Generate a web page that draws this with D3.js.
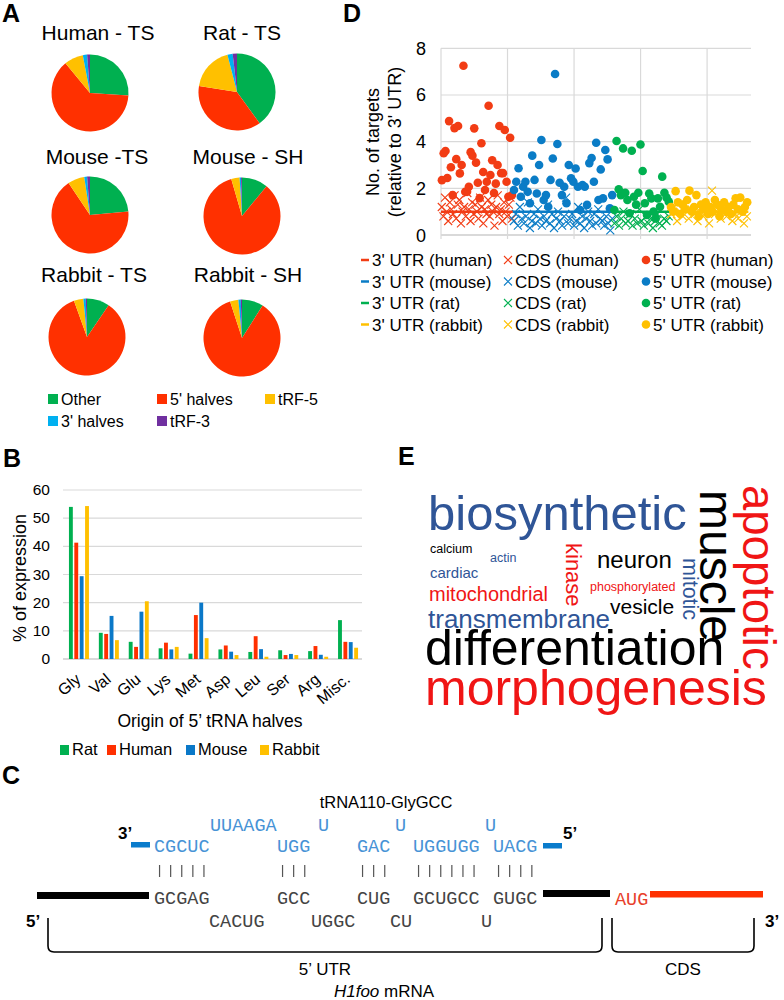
<!DOCTYPE html>
<html><head><meta charset="utf-8">
<script src="https://cdn.jsdelivr.net/npm/d3@7"></script>
<style>body{margin:0;background:#fff} svg{display:block}</style>
</head><body>
<svg id="fig" width="784" height="1000"></svg>
<script>
// ================= DATA =================
// Panel A: composition of tRNA fragments (percent)
const pieCategories = ["Other", "5' halves", "tRF-5", "3' halves", "tRF-3"];
const pieTitles = ["Human - TS", "Rat - TS", "Mouse -TS", "Mouse - SH", "Rabbit - TS", "Rabbit - SH"];
const pieHumanTS  = [26, 63, 8, 1.8, 1.2];
const pieRatTS    = [40, 37.5, 18.5, 2.2, 1.8];
const pieMouseTS  = [23.6, 67, 7, 1.2, 1.2];
const pieMouseSH  = [11, 84.5, 3.5, 0.6, 0.4];
const pieRabbitTS = [9.5, 85, 4, 1, 0.5];
const pieRabbitSH = [9, 86, 3.5, 1, 0.5];

// Panel B: origin of 5' tRNA halves (% of expression)
const bCategories = ["Gly", "Val", "Glu", "Lys", "Met", "Asp", "Leu", "Ser", "Arg", "Misc."];
const bSeries = ["Rat", "Human", "Mouse", "Rabbit"];
const bRat    = [54, 9.3, 6.1, 3.8, 1.9, 3.4, 2.5, 3.1, 2.8, 13.8];
const bHuman  = [41.3, 8.9, 4.3, 5.8, 15.6, 4.8, 8.1, 1.4, 4.6, 6.1];
const bMouse  = [29.4, 15.3, 16.8, 3.4, 20, 2.6, 3.5, 1.8, 1.5, 6.0];
const bRabbit = [54.3, 6.7, 20.5, 4.3, 7.4, 1.4, 0.8, 1.4, 0.8, 4.0];
const bTicks = [0, 10, 20, 30, 40, 50, 60];

// Panel D: number of targets relative to 3' UTR
const dSpecies = ["human", "mouse", "rat", "rabbit"];
const dGeneCounts = [108, 151, 85, 118];
const dTicks = [0, 2, 4, 6, 8];
const utr5Human = [2.35, 3.5, 3.6, 2.44, 4.88, 2.9, 1.71, 4.58, 3.25, 4.67, 2.64, 3.0, 7.25, 1.85, 1.85, 2.07, 3.55, 3.4, 4.57, 3.1, 2.24, 1.58, 3.93, 2.7, 1.93, 2.28, 5.54, 2.57, 3.2, 1.8, 2.2, 3.0, 4.67, 2.65, 2.65, 4.5, 2.28, 1.64, 4.17, 1.71];
const cdsHuman = [1.2, 0.8, 1.6, 1.0, 0.6, 1.4, 1.1, 0.9, 1.7, 0.7, 1.3, 1.5, 0.5, 1.0, 1.2, 0.8, 1.8, 1.1, 0.6, 1.4, 0.9, 1.3, 1.0, 0.7, 1.6, 1.2, 0.5, 1.1, 0.9, 1.5, 0.8, 1.3, 1.0, 0.4, 1.2, 1.7, 0.9, 1.1, 0.6, 1.4, 1.0, 0.8, 1.3, 1.6, 0.7];
const utr5Mouse = [1.93, 2.28, 2.86, 1.64, 2.07, 2.28, 1.85, 1.36, 3.4, 2.36, 1.78, 3.0, 4.07, 1.5, 1.71, 1.21, 2.36, 3.28, 6.9, 3.9, 2.24, 1.71, 2.07, 1.36, 3.0, 2.43, 2.28, 2.85, 2.07, 1.07, 2.14, 2.07, 1.29, 3.08, 3.3, 2.28, 3.95, 1.5, 2.81, 1.57, 3.64, 3.24, 1.14, 1.71];
const cdsMouse = [0.6, 0.9, 0.4, 1.2, 0.7, 0.5, 0.8, 1.4, 0.3, 0.6, 0.9, 0.5, 1.1, 0.7, 0.4, 0.8, 0.6, 1.3, 0.5, 0.9, 0.3, 0.7, 1.0, 0.6, 0.4, 0.8, 1.6, 0.5, 0.7, 0.9, 0.4, 0.6, 1.2, 0.5, 0.8, 0.3, 0.7, 1.0, 0.6, 0.4, 0.9, 0.5, 1.1, 0.7, 0.6, 0.4, 0.8, 0.5, 0.2, 0.7];
const utr5Rat = [1.07, 4.03, 1.96, 1.71, 3.71, 1.81, 1.5, 0.93, 3.61, 1.64, 1.3, 1.81, 3.88, 2.74, 1.36, 0.86, 1.78, 1.57, 1.0, 0.71, 1.57, 1.21, 2.5, 1.81, 1.6, 1.43];
const cdsRat = [0.5, 0.8, 0.4, 0.7, 1.0, 0.5, 0.6, 0.9, 0.4, 0.7, 0.5, 1.1, 0.6, 0.4, 0.8, 0.5, 0.7, 0.3, 0.6, 0.9, 0.5, 0.4, 0.7, 0.6, 0.8];
const utr5Rabbit = [1.2, 1.0, 1.88, 1.4, 0.9, 1.3, 1.1, 1.5, 1.9, 1.0, 1.2, 1.71, 0.8, 1.3, 1.1, 1.4, 0.9, 1.2, 1.0, 1.5, 1.3, 0.8, 1.1, 1.4, 1.0, 1.2, 0.9, 1.3, 1.57, 1.1, 1.6, 1.0, 1.2, 1.4];
const cdsRabbit = [0.9, 1.2, 0.6, 1.0, 0.8, 1.3, 0.7, 1.1, 0.9, 0.6, 1.0, 0.8, 1.2, 0.5, 1.9, 0.9, 1.1, 0.7, 1.0, 0.8, 1.3, 0.6, 0.9, 0.7, 1.0, 0.5, 0.8];
const utr3Value = 1;

// Panel E: word cloud terms
const cloudWords = ["biosynthetic", "muscle", "apoptotic", "differentiation", "morphogenesis", "transmembrane", "mitochondrial", "neuron", "vesicle", "kinase", "mitotic", "cardiac", "calcium", "actin", "phosphorylated"];

// ================= DRAWING =================
const F = 'Arial, "Liberation Sans", sans-serif';
const MONO = '"Courier New", "Liberation Mono", monospace';
const svg = d3.select("#fig").attr("font-family", F);
const GRID = "#d9d9d9";

// panel letters
[["A", 2, 22], ["B", 3, 467], ["C", 2, 784], ["D", 343, 22], ["E", 398, 465]].forEach(([t, x, y]) =>
  svg.append("text").attr("x", x).attr("y", y).attr("font-size", 25).attr("font-weight", "bold").text(t));

// ---------- Panel A ----------
const pieColors = ["#00b050", "#ff3000", "#ffc000", "#00b0f0", "#7030a0"];
const pieValues = [pieHumanTS, pieRatTS, pieMouseTS, pieMouseSH, pieRabbitTS, pieRabbitSH];
const pieLayout = [
  {c: [90, 93], t: [98, 39.5]}, {c: [237, 92], t: [242, 39.5]},
  {c: [90, 215], t: [97, 164]}, {c: [242, 216], t: [248, 164]},
  {c: [87, 337], t: [94, 282]}, {c: [242, 338], t: [248, 282]}
];
const pie = d3.pie().sort(null).value(d => d);
const arc = d3.arc().innerRadius(0).outerRadius(38.5);
pieValues.forEach((vals, i) => {
  const L = pieLayout[i];
  svg.append("text").attr("x", L.t[0]).attr("y", L.t[1]).attr("text-anchor", "middle")
    .attr("font-size", 21).text(pieTitles[i]);
  const g = svg.append("g").attr("transform", `translate(${L.c[0]},${L.c[1]})`);
  g.selectAll("path").data(pie(vals)).join("path").attr("d", arc)
    .attr("fill", (d, j) => pieColors[j]);
});
const pieLegPos = [[48, 405], [157, 405], [265, 405], [48, 427], [157, 427]];
pieCategories.forEach((c, i) => {
  const [x, y] = pieLegPos[i];
  svg.append("rect").attr("x", x).attr("y", y - 11).attr("width", 10).attr("height", 10).attr("fill", pieColors[i]);
  svg.append("text").attr("x", x + 13).attr("y", y).attr("font-size", 16).text(c);
});

// ---------- Panel B ----------
const bColors = ["#00b050", "#ff3000", "#0a78c8", "#ffc000"];
const bData = [bRat, bHuman, bMouse, bRabbit];
const bx0 = d3.scaleBand().domain(bCategories).range([64, 363]).paddingInner(0);
const bx1 = d3.scaleBand().domain(bSeries).range([0, 20]).paddingInner(0.28);
const by = d3.scaleLinear().domain([0, 60]).range([659, 490]);
const gB = svg.append("g");
gB.append("g").selectAll("line").data(bTicks.filter(t => t > 0)).join("line")
  .attr("x1", 63).attr("x2", 362).attr("y1", d => by(d)).attr("y2", d => by(d))
  .attr("stroke", GRID).attr("stroke-width", 1.2);
gB.append("line").attr("x1", 63).attr("x2", 362).attr("y1", by(0)).attr("y2", by(0)).attr("stroke", GRID).attr("stroke-width", 2);
gB.selectAll(".ytl").data(bTicks).join("text").attr("x", 50).attr("y", d => by(d) + 5)
  .attr("text-anchor", "end").attr("font-size", 15.5).text(d => d);
bCategories.forEach((cat, ci) => {
  bSeries.forEach((s, si) => {
    gB.append("rect").attr("x", bx0(cat) + (bx0.bandwidth() - 20) / 2 + bx1(s))
      .attr("width", bx1.bandwidth()).attr("y", by(bData[si][ci]))
      .attr("height", by(0) - by(bData[si][ci])).attr("fill", bColors[si]);
  });
  const cx = bx0(cat) + bx0.bandwidth() / 2 + 3;
  gB.append("text").attr("transform", `translate(${cx},${681}) rotate(-40)`)
    .attr("text-anchor", "end").attr("font-size", 16).text(cat);
});
gB.append("text").attr("transform", "translate(26,578) rotate(-90)").attr("text-anchor", "middle")
  .attr("font-size", 18).text("% of expression");
gB.append("text").attr("x", 210).attr("y", 727).attr("text-anchor", "middle").attr("font-size", 17.5)
  .text("Origin of 5\u2019 tRNA halves");
const bLegPos = [60, 107, 186, 260];
bSeries.forEach((s, i) => {
  gB.append("rect").attr("x", bLegPos[i]).attr("y", 745).attr("width", 9).attr("height", 10).attr("fill", bColors[i]);
  gB.append("text").attr("x", bLegPos[i] + 12).attr("y", 755).attr("font-size", 16.5).text(s);
});

// ---------- Panel C ----------
const gC = svg.append("g");
const BLUE_T = "#4793d6", DARK_T = "#444";
gC.append("text").attr("x", 386).attr("y", 808).attr("text-anchor", "middle").attr("font-size", 16.5).text("tRNA110-GlyGCC");
const cw = 11.1; // monospace advance
const monoRows = [
  // [text, x, y, color]
  ["UUAAGA", 210, 831, BLUE_T], ["U", 318, 831, BLUE_T], ["U", 395, 831, BLUE_T], ["U", 485, 831, BLUE_T],
  ["CGCUC", 154, 852, BLUE_T], ["UGG", 277, 852, BLUE_T], ["GAC", 357, 852, BLUE_T], ["UGGUGG", 413, 852, BLUE_T], ["UACG", 493, 852, BLUE_T],
  ["GCGAG", 154, 904, DARK_T], ["GCC", 277, 904, DARK_T], ["CUG", 357, 904, DARK_T], ["GCUGCC", 413, 904, DARK_T], ["GUGC", 493, 904, DARK_T],
  ["CACUG", 209, 927, DARK_T], ["UGGC", 311, 927, DARK_T], ["CU", 390, 927, DARK_T], ["U", 481, 927, DARK_T],
  ["AUG", 615, 905, "#e8402a"]
];
monoRows.forEach(([t, x, y, c]) => gC.append("text").attr("x", x).attr("y", y).attr("font-family", MONO)
  .attr("font-size", 18.5).attr("fill", c).text(t));
// base-pair ticks under paired segments
[["CGCUC", 154], ["UGG", 277], ["GAC", 357], ["UGGUGG", 413], ["UACG", 493]].forEach(([t, x]) => {
  for (let k = 0; k < t.length; k++) {
    const lx = x + cw * k + cw / 2;
    gC.append("line").attr("x1", lx).attr("x2", lx).attr("y1", 865).attr("y2", 877).attr("stroke", "#555").attr("stroke-width", 1.2);
  }
});
// strands
gC.append("rect").attr("x", 131).attr("y", 842).attr("width", 19).attr("height", 5.5).attr("fill", "#0a7ccc");
gC.append("rect").attr("x", 543).attr("y", 843).attr("width", 19).attr("height", 5.5).attr("fill", "#0a7ccc");
gC.append("rect").attr("x", 37).attr("y", 892).attr("width", 112).attr("height", 7).attr("fill", "#000");
gC.append("rect").attr("x", 543).attr("y", 890).attr("width", 67).attr("height", 7).attr("fill", "#000");
gC.append("rect").attr("x", 650).attr("y", 891).attr("width", 113).attr("height", 6.5).attr("fill", "#ff3000");
[["3\u2019", 118, 839], ["5\u2019", 563, 839], ["5\u2019", 26, 927], ["3\u2019", 765, 927]].forEach(([t, x, y]) =>
  gC.append("text").attr("x", x).attr("y", y).attr("font-size", 17).attr("font-weight", "bold").text(t));
// brackets
gC.append("path").attr("d", "M48,918 L48,946 Q48,952 54,952 L596,952 Q602,952 602,946 L602,918")
  .attr("fill", "none").attr("stroke", "#000").attr("stroke-width", 1.6);
gC.append("path").attr("d", "M612,918 L612,946 Q612,952 618,952 L748,952 Q754,952 754,946 L754,918")
  .attr("fill", "none").attr("stroke", "#000").attr("stroke-width", 1.6);
gC.append("text").attr("x", 325).attr("y", 975).attr("text-anchor", "middle").attr("font-size", 17).text("5\u2019 UTR");
gC.append("text").attr("x", 683).attr("y", 975).attr("text-anchor", "middle").attr("font-size", 17).text("CDS");
const mt = gC.append("text").attr("x", 384).attr("y", 997).attr("text-anchor", "middle").attr("font-size", 17);
mt.append("tspan").attr("font-style", "italic").text("H1foo");
mt.append("tspan").text(" mRNA");

// ---------- Panel D ----------
const dColors = ["#f23c14", "#0a7cc6", "#00b050", "#ffc000"];
const dUtr5 = [utr5Human, utr5Mouse, utr5Rat, utr5Rabbit];
const dCds = [cdsHuman, cdsMouse, cdsRat, cdsRabbit];
const dx = d3.scaleLinear().domain([0, 466]).range([441, 751]);
const dy = d3.scaleLinear().domain([0, 8]).range([235, 48.3]);
const gD = svg.append("g");
gD.selectAll(".hg").data(dTicks.filter(t => t > 0)).join("line").attr("x1", 441).attr("x2", 751)
  .attr("y1", d => dy(d)).attr("y2", d => dy(d)).attr("stroke", GRID).attr("stroke-width", 1.2);
gD.selectAll(".vg").data([100, 200, 300, 400]).join("line").attr("x1", d => dx(d)).attr("x2", d => dx(d))
  .attr("y1", dy(8)).attr("y2", dy(0) + 4).attr("stroke", GRID).attr("stroke-width", 1.2);
gD.append("line").attr("x1", dx(0)).attr("x2", dx(0)).attr("y1", dy(8)).attr("y2", dy(0) + 4).attr("stroke", GRID).attr("stroke-width", 1.2);
gD.append("line").attr("x1", 441).attr("x2", 751).attr("y1", dy(0)).attr("y2", dy(0)).attr("stroke", GRID).attr("stroke-width", 2);
gD.selectAll(".yt").data(dTicks).join("text").attr("x", 426).attr("y", d => dy(d) + 6.5)
  .attr("text-anchor", "end").attr("font-size", 18).text(d => d);
gD.append("text").attr("transform", "translate(379,142) rotate(-90)").attr("text-anchor", "middle").attr("font-size", 18).text("No. of targets");
gD.append("text").attr("transform", "translate(401,142) rotate(-90)").attr("text-anchor", "middle").attr("font-size", 18).text("(relative to 3' UTR)");
const starts = d3.cumsum([0].concat(dGeneCounts));
const crossPath = "M-4,-4L4,4M-4,4L4,-4";
// CDS crosses
dCds.forEach((arr, s) => {
  const n = dGeneCounts[s];
  gD.append("g").selectAll("path").data(arr).join("path")
    .attr("transform", (v, i) => `translate(${dx(starts[s] + (i + 0.5) * n / arr.length)},${dy(v)})`)
    .attr("d", crossPath).attr("stroke", dColors[s]).attr("stroke-width", 1.1).attr("fill", "none");
});
// 3' UTR reference lines
dSpecies.forEach((sp, s) => {
  gD.append("line").attr("x1", dx(starts[s])).attr("x2", dx(starts[s + 1])).attr("y1", dy(utr3Value)).attr("y2", dy(utr3Value))
    .attr("stroke", dColors[s]).attr("stroke-width", 2.5);
});
// 5' UTR circles
dUtr5.forEach((arr, s) => {
  const n = dGeneCounts[s];
  gD.append("g").selectAll("circle").data(arr).join("circle")
    .attr("cx", (v, i) => dx(starts[s] + (i + 0.5) * n / arr.length)).attr("cy", v => dy(v))
    .attr("r", 4.3).attr("fill", dColors[s]);
});
// legend
const legRows = [260, 281.5, 303, 324.5];
dSpecies.forEach((sp, s) => {
  const y = legRows[s];
  gD.append("line").attr("x1", 361).attr("x2", 369).attr("y1", y).attr("y2", y).attr("stroke", dColors[s]).attr("stroke-width", 2.5);
  gD.append("text").attr("x", 372).attr("y", y + 6).attr("font-size", 17).text(`3' UTR (${sp})`);
  gD.append("path").attr("transform", `translate(508,${y})`).attr("d", crossPath).attr("stroke", dColors[s]).attr("stroke-width", 1.1);
  gD.append("text").attr("x", 515).attr("y", y + 6).attr("font-size", 17).text(`CDS (${sp})`);
  gD.append("circle").attr("cx", 646).attr("cy", y).attr("r", 4.3).attr("fill", dColors[s]);
  gD.append("text").attr("x", 653).attr("y", y + 6).attr("font-size", 17).text(`5' UTR (${sp})`);
});

// ---------- Panel E ----------
const CB = "#2f5597", CR = "#f01515", CK = "#000";
const cloudLayout = {
  "biosynthetic":   {x: 428, y: 530, s: 49, c: CB, r: 0},
  "muscle":         {x: 700, y: 490, s: 48, c: CK, r: 90},
  "apoptotic":      {x: 742.5, y: 485, s: 45.5, c: CR, r: 90},
  "differentiation":{x: 425, y: 665, s: 50, c: CK, r: 0},
  "morphogenesis":  {x: 425, y: 705, s: 50, c: CR, r: 0},
  "transmembrane":  {x: 428, y: 628, s: 26, c: CB, r: 0},
  "mitochondrial":  {x: 429, y: 601, s: 20, c: CR, r: 0},
  "neuron":         {x: 597, y: 568, s: 24, c: CK, r: 0},
  "vesicle":        {x: 610, y: 614, s: 21, c: CK, r: 0},
  "kinase":         {x: 566, y: 543, s: 22, c: CR, r: 90},
  "mitotic":        {x: 683, y: 558, s: 21.5, c: CB, r: 90},
  "cardiac":        {x: 430, y: 578, s: 15, c: CB, r: 0},
  "calcium":        {x: 430, y: 553, s: 12.5, c: CK, r: 0},
  "actin":          {x: 490, y: 562, s: 12.5, c: CB, r: 0},
  "phosphorylated": {x: 590, y: 591, s: 12.5, c: CR, r: 0}
};
cloudWords.forEach(w => {
  const L = cloudLayout[w];
  svg.append("text").attr("transform", `translate(${L.x},${L.y}) rotate(${L.r})`)
    .attr("font-size", L.s).attr("fill", L.c).text(w);
});
</script>
</body></html>
